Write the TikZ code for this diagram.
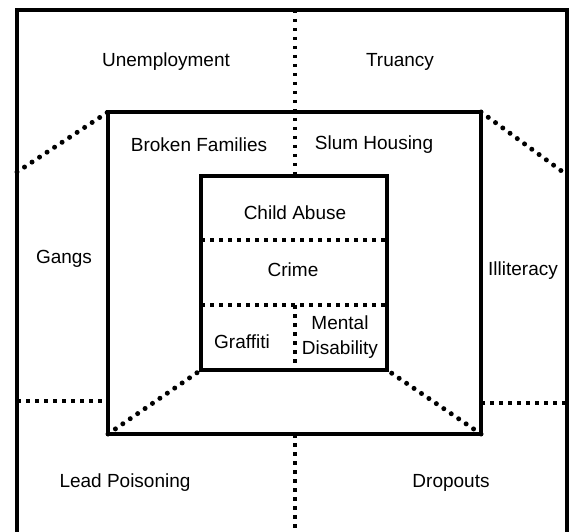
\documentclass[tikz,border=0pt]{standalone}
\usepackage{fontspec}
\setmainfont{Liberation Sans}
\begin{document}
\begin{tikzpicture}[x=1pt, y=-1pt,
    box/.style={draw, line width=4pt, rectangle, inner sep=0pt, outer sep=0pt},
    lbl/.style={font=\fontsize{19}{25}\selectfont, inner sep=0pt, align=center},
    sqdots/.style={line width=3.5pt, dash pattern=on 3.5pt off 5.5pt},
    rddots/.style={line width=5pt, line cap=round, dash pattern=on 0pt off 9pt}]
    \useasboundingbox (0,0) rectangle (571,532);
    \clip (0,0) rectangle (571,532);
    \fill[white] (0,0) rectangle (571,532);
    % the three boxes
    \node[box, minimum width=550pt, minimum height=535pt] (outer) at (292,277.5) {};
    \node[box, minimum width=373pt, minimum height=322pt] (mid) at (294.5,273) {};
    \node[box, minimum width=186pt, minimum height=194pt] (inner) at (294,273) {};
    % free ends of the dotted lines
    \coordinate (top) at (295,10);
    \coordinate (bot) at (295,545);
    \coordinate (lft) at (17,401);
    \coordinate (rgt) at (567,403);
    \coordinate (tl) at (17,172);
    \coordinate (tr) at (567,175);
    \coordinate (row1) at (0,240);
    \coordinate (row2) at (0,305);
    % labels
    \node[lbl] (unemp) at (166,62) {Unemployment};
    \node[lbl] (truancy) at (400,62) {Truancy};
    \node[lbl] (broken) at (199,145) {Broken Families};
    \node[lbl] (slum) at (374,145) {Slum Housing};
    \node[lbl] (gangs) at (64,259) {Gangs};
    \node[lbl] (illit) at (523,271) {Illiteracy};
    \node[lbl] (abuse) at (295,213) {Child Abuse};
    \node[lbl] (crime) at (293,270) {Crime};
    \node[lbl] (graff) at (242,342) {Graffiti};
    \node[lbl] (mental) at (340,337) {Mental\\Disability};
    \node[lbl] (lead) at (125,483) {Lead Poisoning};
    \node[lbl] (drop) at (451,483) {Dropouts};
    % dotted dividers
    \path (top) edge[sqdots] (top |- inner.north);
    \path (bot |- mid.south) edge[sqdots] (bot);
    \path (lft) edge[sqdots] (lft -| mid.west);
    \path (rgt -| mid.east) edge[sqdots] (rgt);
    \path (row1 -| inner.west) edge[sqdots] (row1 -| inner.east);
    \path (row2 -| inner.west) edge[sqdots] (row2 -| inner.east);
    \path (row2 -| top) edge[sqdots] (inner.south -| top);
    \path (tl) edge[rddots] (mid.north west);
    \path (mid.north east) edge[rddots] (tr);
    \path (mid.south west) edge[rddots] (inner.south west);
    \path (mid.south east) edge[rddots] (inner.south east);
\end{tikzpicture}
\end{document}
